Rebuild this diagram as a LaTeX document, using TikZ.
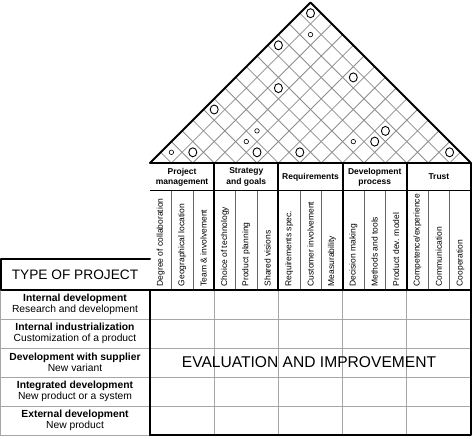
\documentclass[tikz,border=0pt]{standalone}
\usepackage{fontspec}
\setmainfont{Liberation Sans}
\usetikzlibrary{shapes}
\tikzstyle{thk}=[line width=2pt, line cap=round, line join=round]
\tikzstyle{gridl}=[line width=0.8pt, black!45]
\tikzstyle{rowl}=[line width=1pt, black!35]
\tikzstyle{bigc}=[shape=ellipse, draw, line width=0.9pt, minimum width=8pt, minimum height=9pt, inner sep=0pt]
\tikzstyle{smc}=[shape=circle, draw, line width=0.6pt, minimum size=4.5pt, inner sep=0pt]
\tikzstyle{hdr}=[font=\fontsize{8.5}{10.3}\selectfont\bfseries, align=center]
\tikzstyle{col}=[font=\fontsize{8.5}{10}\selectfont, rotate=90, anchor=west, inner sep=0.5pt]
\tikzstyle{typ}=[font=\fontsize{10.3}{11.6}\selectfont, align=center]

\begin{document}
\begin{tikzpicture}[x=1pt,y=-1pt,inner sep=0.4mm
]
\useasboundingbox (0,0) rectangle (474,439);

%roof grid
\foreach \k in {1,...,14}{
  \pgfmathsetmacro\xk{150+\k*21.4}
  \pgfmathsetmacro\tr{(471-\xk)/2}
  \pgfmathsetmacro\tl{(\xk-150)/2}
  \draw[gridl] (\xk,163) -- ++(\tr,-\tr);
  \draw[gridl] (\xk,163) -- ++(-\tl,-\tl);
}
\draw[thk] (150,163) -- (310.5,2.5) -- (471,163);

%roof marks
\node (b1) [bigc] at (310.5,13.2) {};
\node (b2) [bigc] at (278.4,45.3) {};
\node (b3) [bigc] at (353.3,77.4) {};
\node (b4) [bigc] at (278.4,88.1) {};
\node (b5) [bigc] at (214.2,109.5) {};
\node (b6) [bigc] at (257,152.3) {};
\node (b7) [bigc] at (192.8,152.3) {};
\node (b8) [bigc] at (299.8,152.3) {};
\node (b9) [bigc] at (374.7,141.6) {};
\node (b10) [bigc] at (385.4,130.9) {};
\node (b11) [bigc] at (449.6,152.3) {};
\node (s1) [smc] at (310.5,34.6) {};
\node (s2) [smc] at (257,130.9) {};
\node (s3) [smc] at (246.3,141.6) {};
\node (s4) [smc] at (171.4,152.3) {};
\node (s5) [smc] at (353.3,141.6) {};

%header
\foreach \k in {1,2,4,5,7,8,10,11,13,14}
  \draw[line width=0.6pt, black!60] (150+\k*21.4,190) -- (150+\k*21.4,290);
\draw[line width=0.8pt] (150,190) -- (471,190);
\foreach \x in {214.2,278.4,342.6,406.8}
  \draw[thk] (\x,163) -- (\x,290);
\draw[thk] (150,163) -- (471,163) -- (471,290);

\node (g1) [hdr] at (182.1,177) {Project\\management};
\node (g2) [hdr] at (246.3,177) {Strategy\\and goals};
\node (g3) [hdr] at (310.5,177) {Requirements};
\node (g4) [hdr] at (374.7,177) {Development\\process};
\node (g5) [hdr] at (438.9,177) {Trust};

\node (c1) [col] at (160.7,287) {Degree of collaboration};
\node (c2) [col] at (182.1,287) {Geographical location};
\node (c3) [col] at (203.5,287) {Team \& involvement};
\node (c4) [col] at (224.9,287) {Choice of technology};
\node (c5) [col] at (246.3,287) {Product planning};
\node (c6) [col] at (267.7,287) {Shared visions};
\node (c7) [col] at (289.1,287) {Requirements spec.};
\node (c8) [col] at (310.5,287) {Customer involvement};
\node (c9) [col] at (331.9,287) {Measurability};
\node (c10) [col] at (353.3,287) {Decision making};
\node (c11) [col] at (374.7,287) {Methods and tools};
\node (c12) [col] at (396.1,287) {Product dev. model};
\node (c13) [col] at (417.5,287) {Competence/experience};
\node (c14) [col] at (438.9,287) {Communication};
\node (c15) [col] at (460.3,287) {Cooperation};

%rows
\foreach \y in {319,348,377,406}
  \draw[rowl] (0,\y) -- (471,\y);
\foreach \x in {214.2,278.4,342.6,406.8}
  \draw[rowl] (\x,290) -- (\x,435);
\draw[rowl] (0.5,290) -- (0.5,435) -- (150,435);
\draw[line width=1.2pt] (471,290) -- (471,435);
\draw[thk] (150,435) -- (471,435);
\draw[thk] (150,290) -- (150,435);
\draw[thk] (150,259) -- (1,259) -- (1,290) -- (471,290);

\node (tp) [font=\fontsize{13.7}{15}\selectfont] at (75,274.5) {TYPE OF PROJECT};
\node (r1) [typ] at (75,304.5) {\textbf{Internal development}\\Research and development};
\node (r2) [typ] at (75,333.5) {\textbf{Internal industrialization}\\Customization of a product};
\node (r3) [typ] at (75,362.5) {\textbf{Development with supplier}\\New variant};
\node (r4) [typ] at (75,391.5) {\textbf{Integrated development}\\New product or a system};
\node (r5) [typ] at (75,420.5) {\textbf{External development}\\New product};
\node (ev) [font=\fontsize{15.6}{17}\selectfont] at (309,362.5) {EVALUATION AND IMPROVEMENT};

\end{tikzpicture}
\end{document}
